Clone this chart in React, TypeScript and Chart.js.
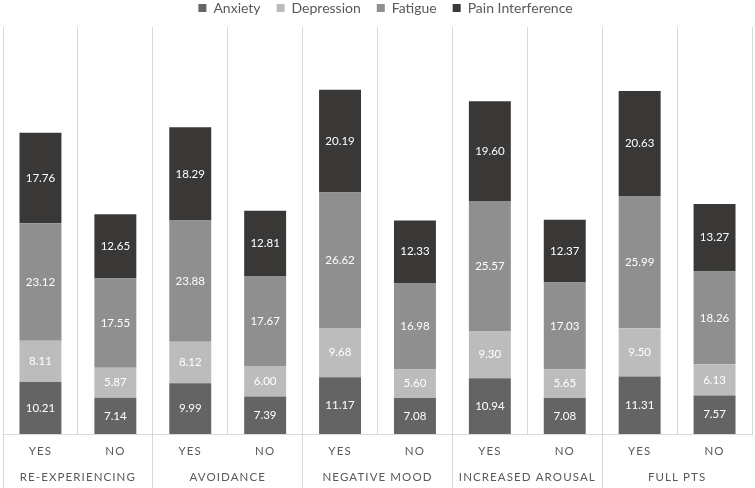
import React, { useEffect, useRef } from 'react';
import { Chart, registerables } from 'chart.js';

Chart.register(...registerables);

const subLabels = ['YES', 'NO', 'YES', 'NO', 'YES', 'NO', 'YES', 'NO', 'YES', 'NO'];
const groupLabels = ['RE-EXPERIENCING', 'AVOIDANCE', 'NEGATIVE MOOD', 'INCREASED AROUSAL', 'FULL PTS'];
const seriesNames = ['Anxiety', 'Depression', 'Fatigue', 'Pain Interference'];

const anxiety = [10.21, 7.14, 9.99, 7.39, 11.17, 7.08, 10.94, 7.08, 11.31, 7.57];
const depression = [8.11, 5.87, 8.12, 6.0, 9.68, 5.6, 9.3, 5.65, 9.5, 6.13];
const fatigue = [23.12, 17.55, 23.88, 17.67, 26.62, 16.98, 25.57, 17.03, 25.99, 18.26];
const painInterference = [17.76, 12.65, 18.29, 12.81, 20.19, 12.33, 19.6, 12.37, 20.63, 13.27];

const seriesColors = ['#646464', '#bcbcbc', '#8f8f8f', '#3a3836'];
const FONT = 'Lato, "Open Sans", sans-serif';

const valueLabels = {
  id: 'valueLabels',
  afterDatasetsDraw(chart: any) {
    const ctx = chart.ctx;
    ctx.save();
    ctx.font = `11.5px ${FONT}`;
    ctx.fillStyle = '#ffffff';
    ctx.textAlign = 'center';
    ctx.textBaseline = 'middle';
    chart.data.datasets.forEach((ds: any, di: number) => {
      const meta = chart.getDatasetMeta(di);
      meta.data.forEach((el: any, i: number) => {
        const p = el.getProps(['x', 'y', 'base'], true);
        ctx.fillText(Number(ds.data[i]).toFixed(2), p.x, (p.y + p.base) / 2);
      });
    });
    ctx.restore();
    ctx.letterSpacing = '1.1px';
  },
  afterDraw(chart: any) {
    chart.ctx.letterSpacing = '0px';
  },
};

const legendTweak = {
  id: 'legendTweak',
  beforeInit(chart: any) {
    const legend = chart.legend;
    if (!legend) return;
    const fit = legend.fit;
    legend.fit = function () {
      fit.call(legend);
      legend.height = 42;
    };
    const draw = legend.draw;
    legend.draw = function (...args: any[]) {
      const ctx = legend.ctx;
      ctx.save();
      ctx.translate(8, 0);
      draw.apply(legend, args);
      ctx.restore();
    };
  },
};

export default function App() {
  const ref = useRef<HTMLCanvasElement>(null);
  useEffect(() => {
    if (!ref.current) return;
    const series = [anxiety, depression, fatigue, painInterference];
    const chart = new Chart(ref.current, {
      type: 'bar',
      data: {
        labels: subLabels,
        datasets: series.map((d, i) => ({
          label: seriesNames[i],
          data: d,
          backgroundColor: seriesColors[i],
          borderWidth: 0,
          barPercentage: 0.56,
          categoryPercentage: 1,
        })),
      },
      options: {
        animation: false,
        responsive: true,
        maintainAspectRatio: false,
        layout: { padding: { top: -15, left: 3, right: 3, bottom: 3 } },
        plugins: {
          legend: {
            position: 'top',
            labels: {
              boxWidth: 8,
              boxHeight: 8,
              padding: 16,
              color: '#595959',
              font: { family: FONT, size: 14 },
            },
          },
          tooltip: { enabled: false },
        },
        scales: {
          x: {
            type: 'category',
            labels: subLabels,
            stacked: true,
            offset: true,
            grid: {
              offset: true,
              color: '#d9d9d9',
              lineWidth: 1,
              drawTicks: true,
              tickLength: 54,
              tickWidth: 1,
              tickColor: (c: any) => (c.index % 2 === 0 ? '#d9d9d9' : 'rgba(0,0,0,0)'),
            },
            border: { display: true, color: '#d9d9d9' },
            ticks: {
              padding: -44,
              color: '#595959',
              font: { family: FONT, size: 11.5 },
              maxRotation: 0,
              autoSkip: false,
              z: 1,
            },
            afterFit: (s: any) => {
              s.height = 24;
            },
          },
          x2: {
            type: 'category',
            labels: groupLabels,
            position: 'bottom',
            offset: true,
            grid: { display: false, drawTicks: false },
            border: { display: false },
            ticks: {
              padding: 12,
              color: '#595959',
              font: { family: FONT, size: 11.5 },
              maxRotation: 0,
              autoSkip: false,
              z: 1,
            },
            afterFit: (s: any) => {
              s.height = 27;
            },
          },
          y: {
            stacked: true,
            display: false,
            min: 0,
            max: 80,
          },
        },
      } as any,
      plugins: [valueLabels, legendTweak],
    });
    return () => chart.destroy();
  }, []);
  return (
    <div style={{ position: 'fixed', left: 0, top: 0, width: 755, height: 488 }}>
      <canvas ref={ref} />
    </div>
  );
}
